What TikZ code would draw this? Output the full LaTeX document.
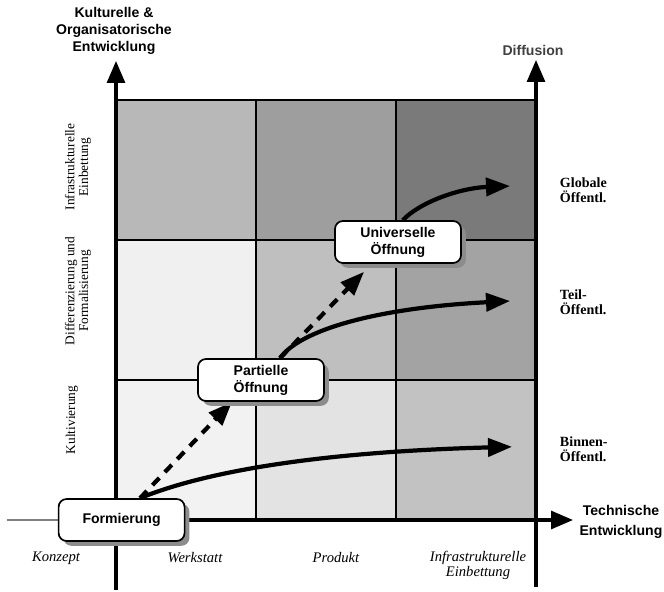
\documentclass[tikz,border=0pt]{standalone}
\usepackage{fontspec}
\setmainfont{Liberation Serif}
\setsansfont{Liberation Sans}
\usetikzlibrary{arrows.meta, shadows, backgrounds}

\begin{document}
\begin{tikzpicture}[
        axis/.style={line width=2.2pt, -{Triangle[length=0.55cm,width=0.45cm]}},
        gridline/.style={line width=2pt},
        flow/.style={line width=3pt, -{Triangle[length=0.6cm,width=0.45cm]}},
        jump/.style={flow, dash pattern=on 0.25cm off 0.2cm},
        phase/.style={draw, line width=1.2pt, fill=white, rounded corners=0.2cm,
            minimum width=3.15cm, minimum height=1.05cm, align=center,
            font=\sffamily\bfseries\fontsize{10}{12}\selectfont,
            drop shadow={shadow xshift=0.12cm, shadow yshift=-0.12cm, fill=black!45, opacity=1}},
        axlabel/.style={align=center, font=\sffamily\bfseries\fontsize{10}{12}\selectfont},
        colhead/.style={align=center, font=\itshape\fontsize{10.4}{10.8}\selectfont},
        rowhead/.style={rotate=90, align=center, font=\fontsize{9.5}{9.8}\selectfont},
        public/.style={anchor=west, align=left, font=\bfseries\fontsize{10}{11}\selectfont}
    ]
        \useasboundingbox (-2.9,-1.775) rectangle (13.7,13.0);

        % phases
        \node[phase] (form) at (0.14,0) {Formierung};
        \node[phase] (part) at (3.625,3.5) {Partielle\\Öffnung};
        \node[phase] (univ) at (7.05,6.95) {Universelle\\Öffnung};

        % axis labels
        \node[axlabel] (kultur) at (-0.05,12.225) {Kulturelle \&\\Organisatorische\\Entwicklung};
        \node[axlabel, text=black!75] (diffusion) at (10.425,11.75) {Diffusion};
        \node[axlabel, font=\sffamily\bfseries\fontsize{10}{14}\selectfont] (technik) at (12.625,-0.05) {Technische\\Entwicklung};

        % columns
        \node[colhead] (konzept) at (-1.5,-0.95) {Konzept};
        \node[colhead] (werkstatt) at (1.975,-0.95) {Werkstatt};
        \node[colhead] (produkt) at (5.5,-0.95) {Produkt};
        \node[colhead] (infra) at (9.05,-1.125) {Infrastrukturelle\\Einbettung};

        % rows
        \node[rowhead] (kult) at (-1.1,2.5) {Kultivierung};
        \node[rowhead] (formal) at (-0.95,5.725) {Differenzierung und\\Formalisierung};
        \node[rowhead] (einb) at (-0.95,8.825) {Infrastrukturelle\\Einbettung};

        % publics
        \node[public] (global) at (10.975,8.25) {Globale\\Öffentl.};
        \node[public] (teil) at (10.975,5.45) {Teil-\\Öffentl.};
        \node[public] (binnen) at (10.975,1.775) {Binnen-\\Öffentl.};
        \coordinate (globalEnd) at (9.85,8.35);
        \coordinate (teilEnd) at (9.85,5.475);
        \coordinate (binnenEnd) at (9.9,1.83);

        \begin{scope}[on background layer]
            % cells
            \foreach \col/\row/\shade in {0/0/5, 1/0/11, 2/0/24, 0/1/6, 1/1/25, 2/1/36, 0/2/28, 1/2/38, 2/2/52} {
                \fill[black!\shade] (3.5*\col,3.5*\row) rectangle ++(3.5,3.5);
            }
            \foreach \v in {3.5,7} {
                \draw[gridline] (\v,0) -- (\v,10.5);
                \draw[gridline] (0,\v) -- (10.5,\v);
            }
            \draw[gridline] (0,10.5) -- (10.5,10.5);

            % axes
            \draw[axis] (0,-1.75) -- (0,11.475);
            \draw[axis] (10.5,-1.675) -- (10.5,11.5);
            \draw[line width=2pt, black!50] (-2.725,0) -- (0,0);
            \draw[axis] (0,0) -- (11.425,0);

            % paths
            \draw[flow] ([xshift=0.46cm]form.north) .. controls (2.2,1.2) and (5,1.7) .. (binnenEnd);
            \draw[flow] ([xshift=0.475cm]part.north) .. controls (4.6,4.75) and (6.5,5.3) .. (teilEnd);
            \draw[flow] ([xshift=0.12cm]univ.north) .. controls (7.6,7.95) and (8.6,8.3) .. (globalEnd);
            \draw[jump] ([xshift=0.46cm]form.north) -- ([xshift=-0.725cm]part.south);
            \draw[jump] ([xshift=0.475cm]part.north) -- ([xshift=-0.85cm,yshift=-0.2cm]univ.south);
        \end{scope}
    \end{tikzpicture}
\end{document}
